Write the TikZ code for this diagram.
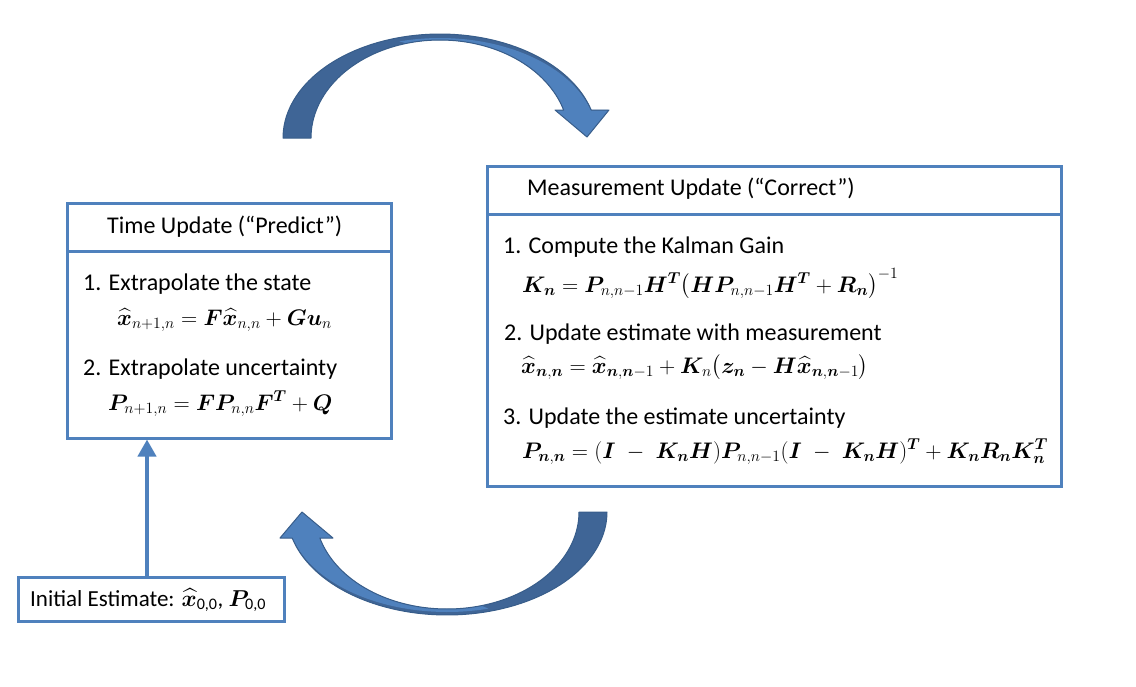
\RequirePackage{fix-cm}
\documentclass[tikz,border=0pt]{standalone}
\usepackage{amsmath,bm}
\usepackage{fontspec}
\setmainfont{Carlito}
\usetikzlibrary{arrows.meta}
\definecolor{boxblue}{HTML}{4F81BD}
\definecolor{arrlight}{HTML}{4F81BD}
\definecolor{arrdark}{HTML}{3F6596}
\definecolor{arrline}{HTML}{385D8A}
\begin{document}
\begin{tikzpicture}[x=1pt,y=-1pt,
  box/.style={draw=boxblue,line width=3pt,fill=white,inner sep=0pt,rectangle},
  txt/.style={anchor=base west,inner sep=0pt,font=\fontsize{24}{28}\selectfont},
  eqn/.style={anchor=base west,inner sep=0pt,font=\fontsize{22.5}{27}\selectfont},
  outl/.style={draw=arrline,line width=1pt,line join=round}]
\useasboundingbox (0,0) rectangle (1136,686);

% boxes
\node[box,minimum width=324pt,minimum height=48pt] (th) at (229,227) {};
\node[box,minimum width=324pt,minimum height=187pt] (tb) at (229,344.5) {};
\node[box,minimum width=574pt,minimum height=48pt] (mh) at (774,190) {};
\node[box,minimum width=574pt,minimum height=272pt] (mb) at (774,350) {};
\node[box,minimum width=266pt,minimum height=44pt] (ie) at (151,599) {};

% left box texts
\node[txt] (tht) at (107,233) {Time Update (“Predict”)};
\node[txt] (t1) at (83,290) {1. Extrapolate the state};
\node[eqn] (e1) at (117,325) {$\widehat{\bm{x}}_{n+1,n} = \bm{F}\widehat{\bm{x}}_{n,n} + \bm{G}\bm{u}_n$};
\node[txt] (t2) at (83,375) {2. Extrapolate uncertainty};
\node[eqn] (e2) at (108,410) {$\bm{P}_{n+1,n} = \bm{F}\bm{P}_{n,n}\bm{F}^{\bm{T}} + \bm{Q}$};

% right box texts
\node[txt] (mht) at (527,195) {Measurement Update (“Correct”)};
\node[txt] (m1) at (503,253) {1. Compute the Kalman Gain};
\node[eqn] (k1) at (522,292) {$\bm{K}_{\bm{n}} = \bm{P}_{n,n-1}\bm{H}^{\bm{T}}\bigl(\bm{H}\bm{P}_{n,n-1}\bm{H}^{\bm{T}} + \bm{R}_{\bm{n}}\bigr)^{-1}$};
\node[txt] (m2) at (504,340) {2. Update estimate with measurement};
\node[eqn] (k2) at (521,373) {$\widehat{\bm{x}}_{\bm{n},\bm{n}} = \widehat{\bm{x}}_{\bm{n},\bm{n}-1} + \bm{K}_n\bigl(\bm{z}_{\bm{n}} - \bm{H}\widehat{\bm{x}}_{\bm{n},\bm{n}-1}\bigr)$};
\node[txt] (m3) at (503,424) {3. Update the estimate uncertainty};
\node[eqn] (k3) at (522,458) {$\bm{P}_{\bm{n},\bm{n}} = (\bm{I} \;-\; \bm{K}_{\bm{n}}\bm{H})\bm{P}_{n,n-1}(\bm{I} \;-\; \bm{K}_{\bm{n}}\bm{H})^{\bm{T}} + \bm{K}_{\bm{n}}\bm{R}_{\bm{n}}\bm{K}_{\bm{n}}^{\bm{T}}$};

% initial estimate text
\node[txt,font=\fontsize{23}{27}\selectfont] (iet) at (30,606) {Initial Estimate: $\widehat{\bm{x}}_{\text{0,0}}$, $\bm{P}_{\text{0,0}}$};

% straight arrow
\draw[boxblue,line width=4pt,-{Triangle[width=18pt,length=17pt]}]
  ([xshift=-4pt]ie.north) -- ([xshift=-4pt]ie.north |- tb.south);

% top curved arrow
\fill[arrdark] plot[domain=180:15.6,samples=70] ({440+157*cos(\x)},{138-104*sin(\x)})
  -- plot[domain=16.6:180,samples=70] ({440+129*cos(\x)},{138-98*sin(\x)}) -- cycle;
\fill[arrlight] plot[domain=105:16.3,samples=60] ({440+157*cos(\x)},{138-100*sin(\x)})
  -- (609,110) -- (587,137) -- (555,110)
  -- plot[domain=16.6:105,samples=60] ({440+129*cos(\x)},{138-98*sin(\x)}) -- cycle;
\path[outl] plot[domain=180:15.6,samples=70] ({440+157*cos(\x)},{138-104*sin(\x)})
  -- (609,110) -- (587,137) -- (555,110)
  -- plot[domain=16.6:180,samples=70] ({440+129*cos(\x)},{138-98*sin(\x)}) -- cycle;

% bottom curved arrow
\fill[arrdark] plot[domain=0:165.38,samples=70] ({447+160*cos(\x)},{512+103*sin(\x)})
  -- plot[domain=164.45:0,samples=70] ({447+132*cos(\x)},{512+97*sin(\x)}) -- cycle;
\fill[arrlight] plot[domain=75:164.9,samples=60] ({447+160*cos(\x)},{512+100*sin(\x)})
  -- (280,538) -- (302,512) -- (333,538)
  -- plot[domain=164.45:75,samples=60] ({447+132*cos(\x)},{512+97*sin(\x)}) -- cycle;
\path[outl] plot[domain=0:165.38,samples=70] ({447+160*cos(\x)},{512+103*sin(\x)})
  -- (280,538) -- (302,512) -- (333,538)
  -- plot[domain=164.45:0,samples=70] ({447+132*cos(\x)},{512+97*sin(\x)}) -- cycle;
\end{tikzpicture}
\end{document}
